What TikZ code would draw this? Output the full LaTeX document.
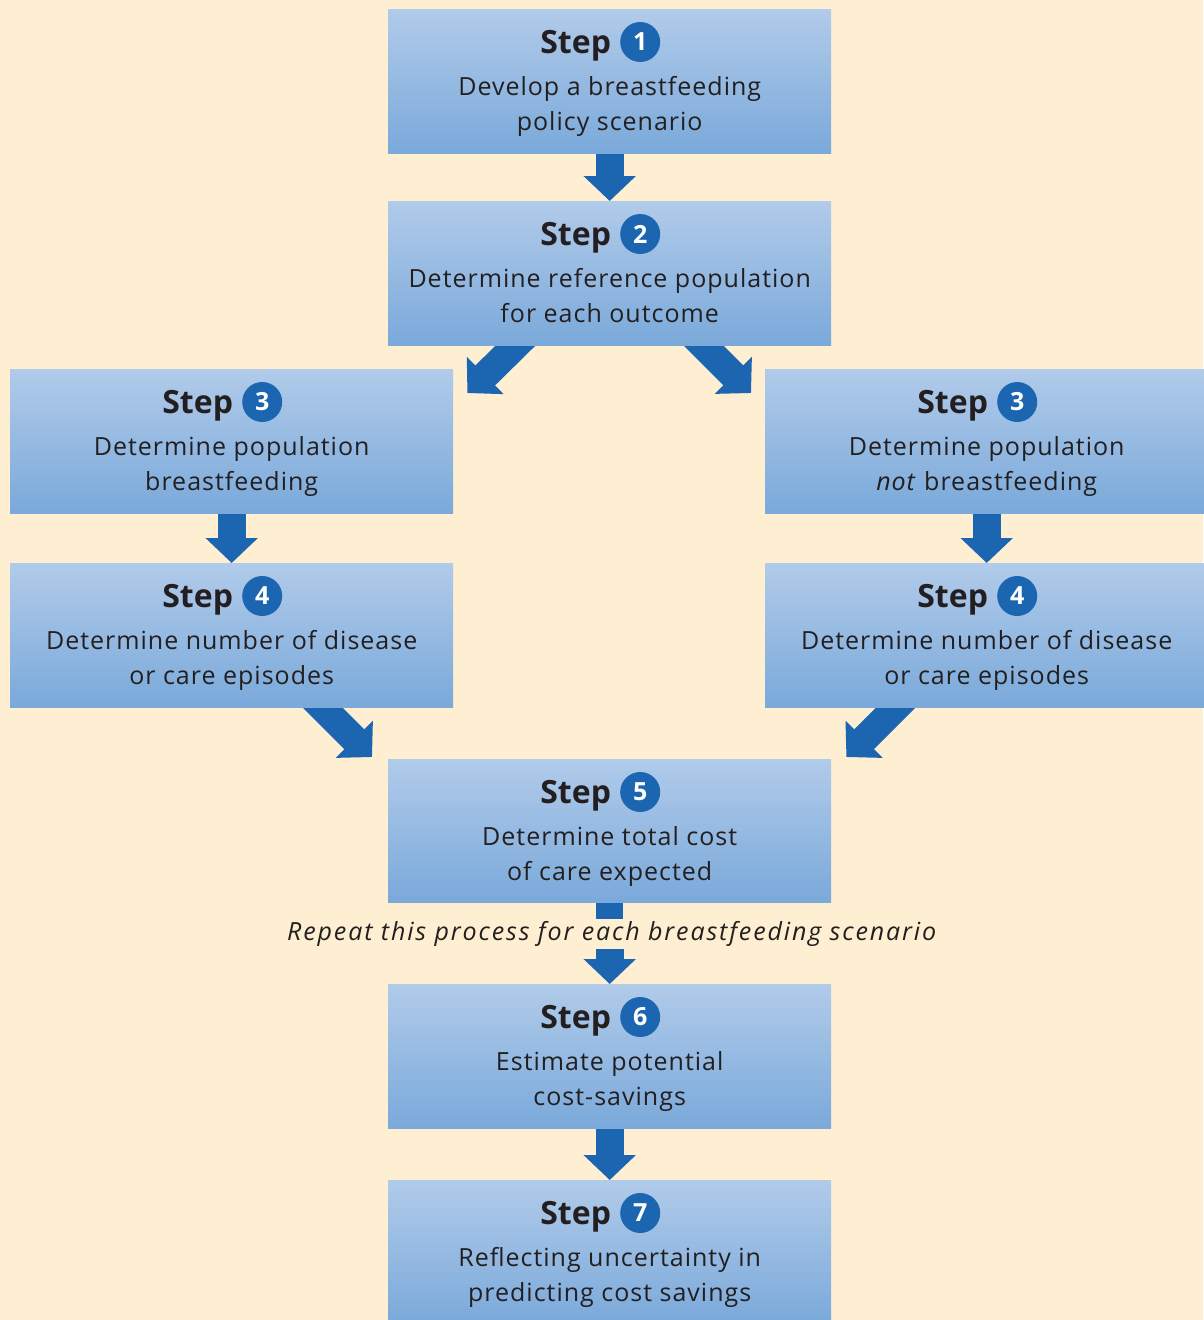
\documentclass[tikz,border=0pt]{standalone}
\usepackage{fontspec}
\setmainfont{Open Sans}
\newfontfamily\bodyfont[LetterSpace=4]{Open Sans}
\newfontfamily\repfont[LetterSpace=7.5]{Open Sans}
\usetikzlibrary{calc,arrows.meta}
\definecolor{bgcol}{HTML}{FEEED2}
\definecolor{boxtop}{HTML}{B1CBEA}
\definecolor{boxbot}{HTML}{7AA9DA}
\definecolor{arrcol}{HTML}{1C65B1}
\definecolor{txtcol}{HTML}{231F20}
\pgfdeclarelayer{bglayer}
\pgfdeclarelayer{arrlayer}
\pgfsetlayers{bglayer,arrlayer,main}
\tikzset{
  stepbox/.style={rectangle, anchor=north west, minimum width=443pt, minimum height=144pt,
    inner sep=0pt, top color=boxtop, bottom color=boxbot, draw=none},
  steplbl/.style={anchor=base east, inner sep=0pt, text=txtcol,
    font=\fontsize{32}{36}\selectfont\bfseries},
  numcirc/.style={circle, fill=arrcol, minimum size=40pt, inner sep=0pt, text=white,
    font=\fontsize{25}{28}\selectfont\bfseries},
  bodytxt/.style={anchor=base, inner sep=0pt, text=txtcol,
    font=\bodyfont\fontsize{25}{35}\selectfont},
  bigarrow/.style={draw=arrcol, line width=28pt,
    -{Triangle[width=51pt,length=25pt]}},
  shaftfill/.style={fill=arrcol}
}
\newcommand{\stepcontent}[4]{%
  \node[steplbl] (#1lbl) at ($(#1.north)+(1.5,44)$) {Step};
  \node[numcirc] (#1num) at ($(#1.north)+(30.5,33)$) {#2};
  \node[bodytxt] (#1a) at ($(#1.north)+(0,86.5)$) {#3};
  \node[bodytxt] (#1b) at ($(#1.north)+(0,121.5)$) {#4};
}
\begin{document}
\begin{tikzpicture}[x=1pt,y=-1pt]
\useasboundingbox (0,0) rectangle (1203,1320);
\begin{pgfonlayer}{bglayer}
\fill[bgcol] (0,0) rectangle (1203,1320);
\end{pgfonlayer}

\node[stepbox] (s1) at (388,9) {};
\node[stepbox] (s2) at (388,201) {};
\node[stepbox] (s3l) at (10,369) {};
\node[stepbox] (s3r) at (765,369) {};
\node[stepbox] (s4l) at (10,563) {};
\node[stepbox] (s4r) at (765,563) {};
\node[stepbox, minimum height=143pt] (s5) at (388,759) {};
\node[stepbox] (s6) at (388,984) {};
\node[stepbox] (s7) at (388,1180) {};

\stepcontent{s1}{1}{Develop a breastfeeding}{policy scenario}
\stepcontent{s2}{2}{Determine reference population}{for each outcome}
\stepcontent{s3l}{3}{Determine population}{breastfeeding}
\stepcontent{s3r}{3}{Determine population}{\textit{not} breastfeeding}
\stepcontent{s4l}{4}{Determine number of disease}{or care episodes}
\stepcontent{s4r}{4}{Determine number of disease}{or care episodes}
\stepcontent{s5}{5}{Determine total cost}{of care expected}
\stepcontent{s6}{6}{Estimate potential}{cost-savings}
\stepcontent{s7}{7}{Reflecting uncertainty in}{predicting cost savings}

\node[anchor=base, inner sep=0pt, text=txtcol, font=\repfont\fontsize{25}{35}\selectfont\itshape]
  (rep) at ($(s5.south)+(2,38)$) {Repeat this process for each breastfeeding scenario};

\begin{pgfonlayer}{arrlayer}
\draw[bigarrow] ($(s1.south)+(0,-10)$) -- (s2.north);
\draw[bigarrow] ($(s3l.south)+(0,-10)$) -- (s4l.north);
\draw[bigarrow] ($(s3r.south)+(0,-10)$) -- (s4r.north);
\draw[bigarrow] ($(s6.south)+(0,-10)$) -- (s7.north);
\draw[bigarrow] ($(s2.south west)+(148,-20)$) -- ($(s3l.north east)+(14,24)$);
\draw[bigarrow] ($(s2.south east)+(-148,-20)$) -- ($(s3r.north west)+(-14,24)$);
\draw[bigarrow] ($(s4l.south east)+(-151,-20)$) -- ($(s5.north west)+(-16,-2)$);
\draw[bigarrow] ($(s4r.south west)+(151,-20)$) -- ($(s5.north east)+(15,-2)$);
\fill[shaftfill] ($(s5.south)+(-13.5,-5)$) rectangle ($(s5.south)+(13.5,17)$);
\draw[bigarrow] ($(s6.north)+(0,-35)$) -- (s6.north);
\end{pgfonlayer}
\end{tikzpicture}
\end{document}
